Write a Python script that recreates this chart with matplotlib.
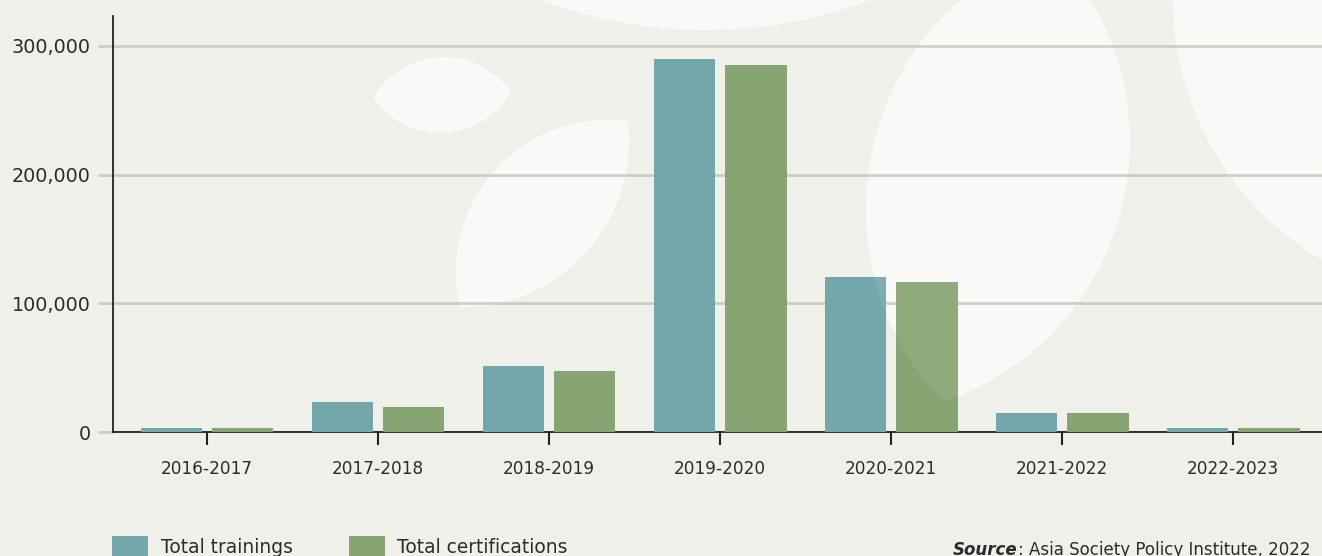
import numpy as np
import matplotlib
matplotlib.use('Agg')
import matplotlib.pyplot as plt
from matplotlib.patches import Circle, Rectangle

plt.rcParams['font.family'] = ['DejaVu Sans']

years = ['2016-2017', '2017-2018', '2018-2019', '2019-2020',
         '2020-2021', '2021-2022', '2022-2023']
trainings = [3000, 23300, 51300, 290000, 120500, 14800, 3000]
certifications = [3000, 19400, 47400, 285200, 116600, 14800, 3000]
series_names = ['Total trainings', 'Total certifications']
yticks = [0, 100000, 200000, 300000]

teal = '#74a7ab'
green = '#87a573'
bgc = '#f0f0ea'
gridc = '#cdcec1'
textc = '#2b2b2b'

W, H = 1322, 556
fig = plt.figure(figsize=(W / 100, H / 100), dpi=100)
fig.patch.set_facecolor(bgc)

# background decoration, pixel coordinates
bg = fig.add_axes([0, 0, 1, 1])
bg.set_xlim(0, W)
bg.set_ylim(H, 0)
bg.axis('off')


def lens_circles(p1, p2, s1, s2):
    p1, p2 = np.array(p1, float), np.array(p2, float)
    mid = (p1 + p2) / 2
    d = p2 - p1
    h = np.hypot(*d) / 2
    n = np.array([-d[1], d[0]]) / (2 * h)
    out = []
    for s, sign in ((s1, 1), (s2, -1)):
        r = (h * h + s * s) / (2 * s)
        out.append((mid - sign * n * (r - s), r))
    return out


shapes = [
    [((705, -439), 469), None],
    [((1474, 0), 301), None],
    lens_circles((373, 98), (511, 92), 38, 38),
    lens_circles((460, 307), (628, 121), 57, 66),
    [((1146, 209), 280), ((856, 142), 274)],
]


def draw_shapes(axis, color, alpha):
    for a, b in shapes:
        c1 = Circle(a[0], a[1], transform=axis.transData, color=color,
                    alpha=alpha, lw=0)
        axis.add_patch(c1)
        if b is not None:
            c2 = Circle(b[0], b[1], transform=axis.transData)
            c1.set_clip_path(c2)


draw_shapes(bg, '#f9f9f7', 1.0)

# main chart
ax = fig.add_axes([113 / W, 124 / H, 1209 / W, 416 / H])
ax.set_facecolor('none')
x = np.arange(len(years))
bw = 0.357
off = 0.21
ax.bar(x - off, trainings, bw, color=teal, zorder=3)
ax.bar(x + off, certifications, bw, color=green, zorder=3)

ax.set_xlim(-0.55, 6.52)
ax.set_ylim(0, 323300)
ax.set_xticks(x)
ax.set_xticklabels(years, fontsize=12.2, color=textc)
ax.set_yticks(yticks)
ax.set_yticklabels([f'{v:,}' for v in yticks], fontsize=13.8, color=textc)
ax.yaxis.grid(True, color=gridc, lw=2)
ax.set_axisbelow(True)
ax.tick_params(axis='y', length=11, width=2, color=gridc, pad=5)
ax.tick_params(axis='x', length=9.5, width=1.5, color='#222222', pad=11)
for s in ['top', 'right']:
    ax.spines[s].set_visible(False)
ax.spines['left'].set_color('#222222')
ax.spines['left'].set_linewidth(1.3)
ax.spines['bottom'].set_color('#222222')
ax.spines['bottom'].set_linewidth(1.3)

# faint overlay of the shapes over the bars
ov = fig.add_axes([0, 0, 1, 1])
ov.set_xlim(0, W)
ov.set_ylim(H, 0)
ov.axis('off')
ov.set_facecolor('none')
draw_shapes(ov, 'white', 0.07)

# legend
ov.add_patch(Rectangle((112, 536), 36, 24, color=teal, lw=0))
ov.text(161, 553, series_names[0], fontsize=13.4, color=textc, va='baseline')
ov.add_patch(Rectangle((349, 536), 36, 24, color=green, lw=0))
ov.text(397, 553, series_names[1], fontsize=13.4, color=textc, va='baseline')

# source
t1 = ov.text(1310, 555, ': Asia Society Policy Institute, 2022', fontsize=12,
             color=textc, ha='right', va='baseline')
ov.annotate('Source', xy=(0, 0), xycoords=t1, ha='right', va='bottom',
            fontsize=12, color=textc, fontweight='bold', fontstyle='italic')

fig.savefig('out.png', dpi=100, facecolor=bgc)
